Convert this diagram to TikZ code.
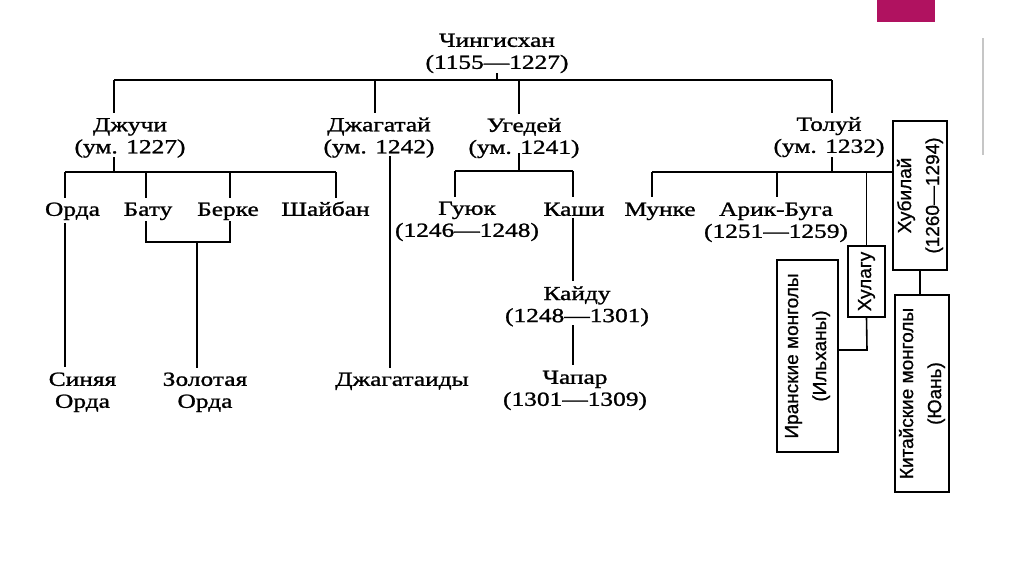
\documentclass[tikz,border=0pt]{standalone}
\usepackage{fontspec}
\setmainfont{Liberation Serif}[FakeStretch=1.27,FakeBold=1.2]
\newfontfamily\rotfont{Liberation Sans}[FakeBold=0.8]
\definecolor{accent}{RGB}{176,18,96}
\begin{document}
\begin{tikzpicture}[x=1pt,y=-1pt,
  lbl/.style={anchor=north,inner sep=0pt,align=center,font=\fontsize{20}{22}\selectfont},
  rbox/.style={draw,line width=1.5pt,rotate=90,inner sep=0pt,align=center,font=\rotfont\fontsize{19}{28}\selectfont},
  tree/.style={line width=1.6pt}]
\useasboundingbox[fill=white] (0,0) rectangle (1024,574);
\fill[accent] (877,0) rectangle (935,22);
\draw[gray!45,line width=1.4pt] (983,38) -- (983,155);

% text nodes
\node[lbl] (chingis) at (497,31.2) {\strut Чингисхан\\(1155—1227)};
\node[lbl] (dzhuchi) at (130,115.7) {\strut Джучи\\(ум. 1227)};
\node[lbl] (dzhagatai) at (379,115.7) {\strut Джагатай\\(ум. 1242)};
\node[lbl] (ugedei) at (524,116.2) {\strut Угедей\\(ум. 1241)};
\node[lbl] (tolui) at (829,115.2) {\strut Толуй\\(ум. 1232)};
\node[lbl] (orda) at (72.5,200.2) {\strut Орда};
\node[lbl] (batu) at (148,200.2) {\strut Бату};
\node[lbl] (berke) at (228,200.2) {\strut Берке};
\node[lbl] (shaiban) at (325.5,200.2) {\strut Шайбан};
\node[lbl] (guyuk) at (467,199.2) {\strut Гуюк\\(1246—1248)};
\node[lbl] (kashi) at (574,200.2) {\strut Каши};
\node[lbl] (munke) at (660,200.2) {\strut Мунке};
\node[lbl] (arik) at (776,200.2) {\strut Арик-Буга\\(1251—1259)};
\node[lbl] (kaidu) at (577,284.5) {\strut Кайду\\(1248—1301)};
\node[lbl] (chapar) at (575,368.2) {\strut Чапар\\(1301—1309)};
\node[lbl] (sinyaya) at (82.5,370.2) {\strut Синяя\\Орда};
\node[lbl] (zolotaya) at (205,370.2) {\strut Золотая\\Орда};
\node[lbl] (dzhagataidy) at (402,370.2) {\strut Джагатаиды};

% rotated boxes
\node[rbox,minimum width=149pt,minimum height=54pt] (hub) at (920,195.5) {Хубилай\\(1260—1294)};
\node[rbox,minimum width=71pt,minimum height=37pt] (hul) at (866.5,281.5) {Хулагу};
\node[rbox,minimum width=192pt,minimum height=61pt] (iran) at (807.5,356) {Иранские монголы\\(Ильханы)};
\node[rbox,minimum width=197pt,minimum height=54pt] (kit) at (922,393.5) {Китайские монголы\\(Юань)};

% junction coordinates
\coordinate (busL) at (114,80);
\coordinate (busR) at (832,80);
\coordinate (bDzh) at (375,80);
\coordinate (bUg) at (519,80);
\coordinate (tDzhu) at (114,113);
\coordinate (tDzha) at (375,113);
\coordinate (tUg) at (519,114);
\coordinate (tTol) at (832,113);
% Джучи
\coordinate (j0) at (114,157);
\coordinate (j1) at (114,172);
\coordinate (jL) at (65,172);
\coordinate (jB) at (146,172);
\coordinate (jK) at (230,172);
\coordinate (jR) at (336,172);
\coordinate (jLd) at (65,198);
\coordinate (jBd) at (146,198);
\coordinate (jKd) at (230,198);
\coordinate (jRd) at (336,198);
\coordinate (o1) at (65,223);
\coordinate (o2) at (65,367);
\coordinate (b1) at (146,221);
\coordinate (b2) at (146,242);
\coordinate (k1) at (230,221);
\coordinate (k2) at (230,242);
\coordinate (z1) at (197,242);
\coordinate (z2) at (197,368);
% Джагатай
\coordinate (g1) at (390,156);
\coordinate (g2) at (390,368);
% Угедей
\coordinate (u0) at (519,153);
\coordinate (u1) at (519,171);
\coordinate (uL) at (455,171);
\coordinate (uR) at (573,171);
\coordinate (uLd) at (455,197);
\coordinate (uRd) at (573,197);
\coordinate (ka1) at (573,218);
\coordinate (ka2) at (573,281);
\coordinate (kd1) at (573,325);
\coordinate (kd2) at (573,365);
% Толуй
\coordinate (t0) at (832,157);
\coordinate (t1) at (832,172);
\coordinate (tL) at (652,172);
\coordinate (tLd) at (652,197);
\coordinate (tA) at (777,172);
\coordinate (tAd) at (777,197);
\coordinate (hk) at (867,350);

% connectors
\draw[tree] (chingis.south) -- (chingis.south |- busL);
\draw[tree] (busL) -- (busR);
\draw[tree] (busL) -- (tDzhu);
\draw[tree] (bDzh) -- (tDzha);
\draw[tree] (bUg) -- (tUg);
\draw[tree] (busR) -- (tTol);

\draw[tree] (j0) -- (j1);
\draw[tree] (jL) -- (jR);
\draw[tree] (jL) -- (jLd);
\draw[tree] (jB) -- (jBd);
\draw[tree] (jK) -- (jKd);
\draw[tree] (jR) -- (jRd);
\draw[tree] (o1) -- (o2);
\draw[tree] (b1) -- (b2) -- (k2) -- (k1);
\draw[tree] (z1) -- (z2);

\draw[tree] (g1) -- (g2);

\draw[tree] (u0) -- (u1);
\draw[tree] (uL) -- (uR);
\draw[tree] (uL) -- (uLd);
\draw[tree] (uR) -- (uRd);
\draw[tree] (ka1) -- (ka2);
\draw[tree] (kd1) -- (kd2);

\draw[tree] (t0) -- (t1);
\draw[tree] (tL) -- (hub.north |- t1);
\draw[tree] (tL) -- (tLd);
\draw[tree] (tA) -- (tAd);
\draw[tree] (hul.east |- t1) -- (hul.east);
\draw[tree] (hul.west) -- (hk) -- (hk -| iran.south);
\draw[tree] (hub.west) -- (hub.west |- kit.east);
\end{tikzpicture}
\end{document}
